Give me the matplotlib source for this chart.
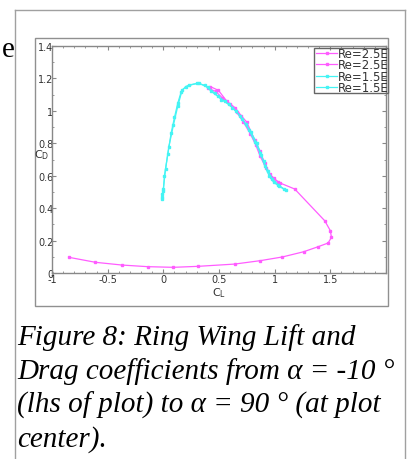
import matplotlib
matplotlib.use('Agg')
import matplotlib.pyplot as plt
from matplotlib.patches import Rectangle
from matplotlib.ticker import MultipleLocator, FuncFormatter

# Data (CL, CD)
m1_cl = [-0.85, -0.61, -0.37, -0.14, 0.09, 0.31, 0.64, 0.87, 1.07, 1.26, 1.39, 1.48, 1.51, 1.50,
         1.45, 1.18, 1.045, 0.99, 0.955, 0.91, 0.866, 0.82, 0.75, 0.70, 0.643, 0.57, 0.494, 0.42]
m1_cd = [0.097, 0.066, 0.049, 0.039, 0.035, 0.041, 0.055, 0.076, 0.099, 0.131, 0.162, 0.185, 0.22, 0.261,
         0.322, 0.518, 0.556, 0.585, 0.61, 0.68, 0.754, 0.82, 0.93, 0.97, 1.02, 1.06, 1.127, 1.15]

m2_cl = [0.40, 0.47, 0.53, 0.60, 0.66, 0.72, 0.78, 0.83, 0.87, 0.92, 0.97, 1.03]
m2_cd = [1.14, 1.12, 1.08, 1.04, 0.99, 0.93, 0.86, 0.79, 0.72, 0.65, 0.595, 0.56]

c1_cl = [-0.01, -0.01, 0.00, 0.01, 0.04, 0.07, 0.10, 0.13, 0.16, 0.20, 0.30, 0.375, 0.43,
         0.49, 0.55, 0.62, 0.69, 0.74, 0.79, 0.84, 0.88, 0.91, 0.95, 0.99, 1.04, 1.10]
c1_cd = [0.456, 0.487, 0.507, 0.60, 0.733, 0.863, 0.96, 1.048, 1.117, 1.15, 1.17, 1.158, 1.12,
         1.09, 1.06, 1.02, 0.97, 0.92, 0.867, 0.80, 0.73, 0.66, 0.60, 0.56, 0.535, 0.51]

c2_cl = [-0.01, 0.00, 0.02, 0.05, 0.09, 0.13, 0.17, 0.23, 0.32, 0.40, 0.46, 0.52, 0.59, 0.65,
         0.71, 0.77, 0.82, 0.87, 0.90, 0.94, 0.98, 1.03, 1.08]
c2_cd = [0.47, 0.52, 0.64, 0.78, 0.91, 1.03, 1.13, 1.16, 1.17, 1.145, 1.11, 1.07, 1.04, 1.00,
         0.95, 0.88, 0.81, 0.74, 0.69, 0.63, 0.58, 0.545, 0.52]

labels = ['Re=2.5E5', 'Re=2.5E5', 'Re=1.5E5', 'Re=1.5E5']

caption = ['Figure 8: Ring Wing Lift and',
           'Drag coefficients from \u03b1 = -10 \u00b0',
           '(lhs of plot) to \u03b1 = 90 \u00b0 (at plot',
           'center).']

W, H = 409, 460
fig = plt.figure(figsize=(W / 100, H / 100), dpi=100)

def fx(px):
    return px / W

def fy(py):
    return 1 - py / H

# page frame and image border
fig.add_artist(plt.Line2D([fx(15), fx(15)], [0, fy(10.5)], color='#a0a0a0', lw=1))
fig.add_artist(plt.Line2D([fx(15), fx(405)], [fy(10.5), fy(10.5)], color='#a0a0a0', lw=1))
fig.add_artist(plt.Line2D([fx(405), fx(405)], [0, fy(10.5)], color='#a0a0a0', lw=1))
fig.add_artist(Rectangle((fx(35), fy(307)), fx(388) - fx(35), fy(39) - fy(307),
                         fill=False, edgecolor='#909090', lw=1))

fig.text(fx(2), fy(57), 'e', family='Liberation Serif', fontsize=21, color='black')

ax = fig.add_axes([fx(52), fy(274), fx(386) - fx(52), fy(47) - fy(274)])

mag = '#ff5cff'
cya = '#44f4f4'
kw = dict(lw=0.9, marker='s', markersize=1.8, clip_on=False)
h1, = ax.plot(m1_cl, m1_cd, color=mag, **kw)
h2, = ax.plot(m2_cl, m2_cd, color=mag, **kw)
h3, = ax.plot(c1_cl, c1_cd, color=cya, **kw)
h4, = ax.plot(c2_cl, c2_cd, color=cya, **kw)
ax.set_xlim(-1, 2)
ax.set_ylim(0, 1.4)

for s in ax.spines.values():
    s.set_color('#888888')
    s.set_linewidth(1)

ax.xaxis.set_major_locator(MultipleLocator(0.5))
ax.xaxis.set_minor_locator(MultipleLocator(0.1))
ax.yaxis.set_major_locator(MultipleLocator(0.2))
ax.yaxis.set_minor_locator(MultipleLocator(0.1))
ax.xaxis.set_major_formatter(FuncFormatter(lambda v, p: '' if v > 1.9 else '%g' % round(v, 2)))
ax.yaxis.set_major_formatter(FuncFormatter(lambda v, p: '%g' % round(v, 2)))
ax.tick_params(which='both', direction='in', top=True, right=True, colors='#888888',
               labelcolor='#333333', labelsize=7)
ax.tick_params(which='major', length=3)
ax.tick_params(which='minor', length=1.5)
ax.tick_params(axis='y', pad=-1)
ax.tick_params(axis='x', pad=1)

fig.text(fx(212), fy(296), '$\\mathregular{C_L}$', fontsize=8, color='#333333')
fig.text(fx(34), fy(158), '$\\mathregular{C_D}$', fontsize=8, color='#333333')

# legend, clipped at the image border like the reference
leg = fig.legend([h1, h2, h3, h4], labels, loc='upper left',
                 bbox_to_anchor=(fx(315), fy(47)), frameon=False, fontsize=8.5,
                 handlelength=1.75, handletextpad=0.1, labelspacing=-0.15,
                 borderpad=0.1, borderaxespad=0, labelcolor='#333333')
clip = Rectangle((fx(314), fy(94)), fx(387) - fx(314), fy(48) - fy(94),
                 transform=fig.transFigure, visible=False)
fig.add_artist(clip)
for t in leg.get_texts():
    t.set_clip_path(clip)
fig.add_artist(Rectangle((fx(314), fy(94)), fx(388) - fx(314), fy(49) - fy(94),
                         facecolor='none', edgecolor='#666666', lw=1))

for i, line in enumerate(caption):
    fig.text(fx(17), fy(345 + 34 * i), line, family='Liberation Serif', style='italic',
             fontsize=21, color='black')

fig.savefig('out.png', dpi=100)
